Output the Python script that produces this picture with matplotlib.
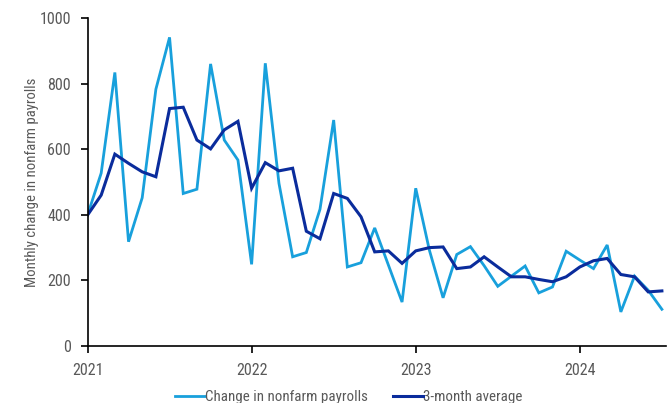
import matplotlib
matplotlib.use("Agg")
import matplotlib.pyplot as plt
import numpy as np

# Monthly data, Jan 2021 - Jul 2024 (thousands)
payrolls = [399, 527, 834, 318, 452, 783, 941, 465, 478, 860, 628, 567,
            249, 862, 496, 272, 285, 417, 689, 241, 254, 360, 247, 134,
            481, 292, 147, 279, 303, 245, 182, 213, 244, 162, 180, 289,
            262, 236, 308, 104, 213, 170, 112]
avg3 = [399, 460, 585, 557, 531, 516, 724, 728, 628, 601, 659, 685,
        481, 559, 534, 542, 350, 327, 465, 450, 394, 287, 290, 252,
        290, 300, 302, 236, 241, 272, 241, 211, 211, 203, 196, 211,
        241, 260, 267, 218, 211, 165, 168]
year_labels = ["2021", "2022", "2023", "2024"]

months = np.arange(len(payrolls))

plt.rcParams['font.family'] = ['Roboto Condensed', 'DejaVu Sans']

fig = plt.figure(figsize=(6.69, 4.03), dpi=100)
ax = fig.add_axes([0.1308, 0.1414, 0.8647, 0.8139])

light = "#18a0dc"
dark = "#0a2c9c"
ax.plot(months, payrolls, color=light, lw=2.0, label="Change in nonfarm payrolls",
        solid_joinstyle="miter")
ax.plot(months, avg3, color=dark, lw=2.2, label="3-month average",
        solid_joinstyle="miter")

ax.set_xlim(0, 42.3)
ax.set_ylim(0, 1000)
ax.set_yticks(np.arange(0, 1001, 200))
ax.set_xticks(np.arange(len(year_labels)) * 12)
ax.set_xticklabels(year_labels)

for side in ("top", "right"):
    ax.spines[side].set_visible(False)
for side in ("left", "bottom"):
    ax.spines[side].set_color("black")
    ax.spines[side].set_linewidth(1.2)

ax.tick_params(axis="both", direction="out", length=5, width=1.2,
               colors="black", labelcolor="#595959", labelsize=11.5)
ax.tick_params(axis="x", pad=7)
ax.tick_params(axis="y", pad=7)
ax.set_ylabel("Monthly change in nonfarm payrolls", color="#595959",
              fontsize=10.6, labelpad=0)

leg = ax.legend(loc="center", bbox_to_anchor=(0.452, -0.155), ncol=2,
                frameon=False, fontsize=10.8, handlelength=2.0, handletextpad=0.0,
                columnspacing=1.67, labelcolor="#595959")

fig.savefig("out.png", dpi=100)
